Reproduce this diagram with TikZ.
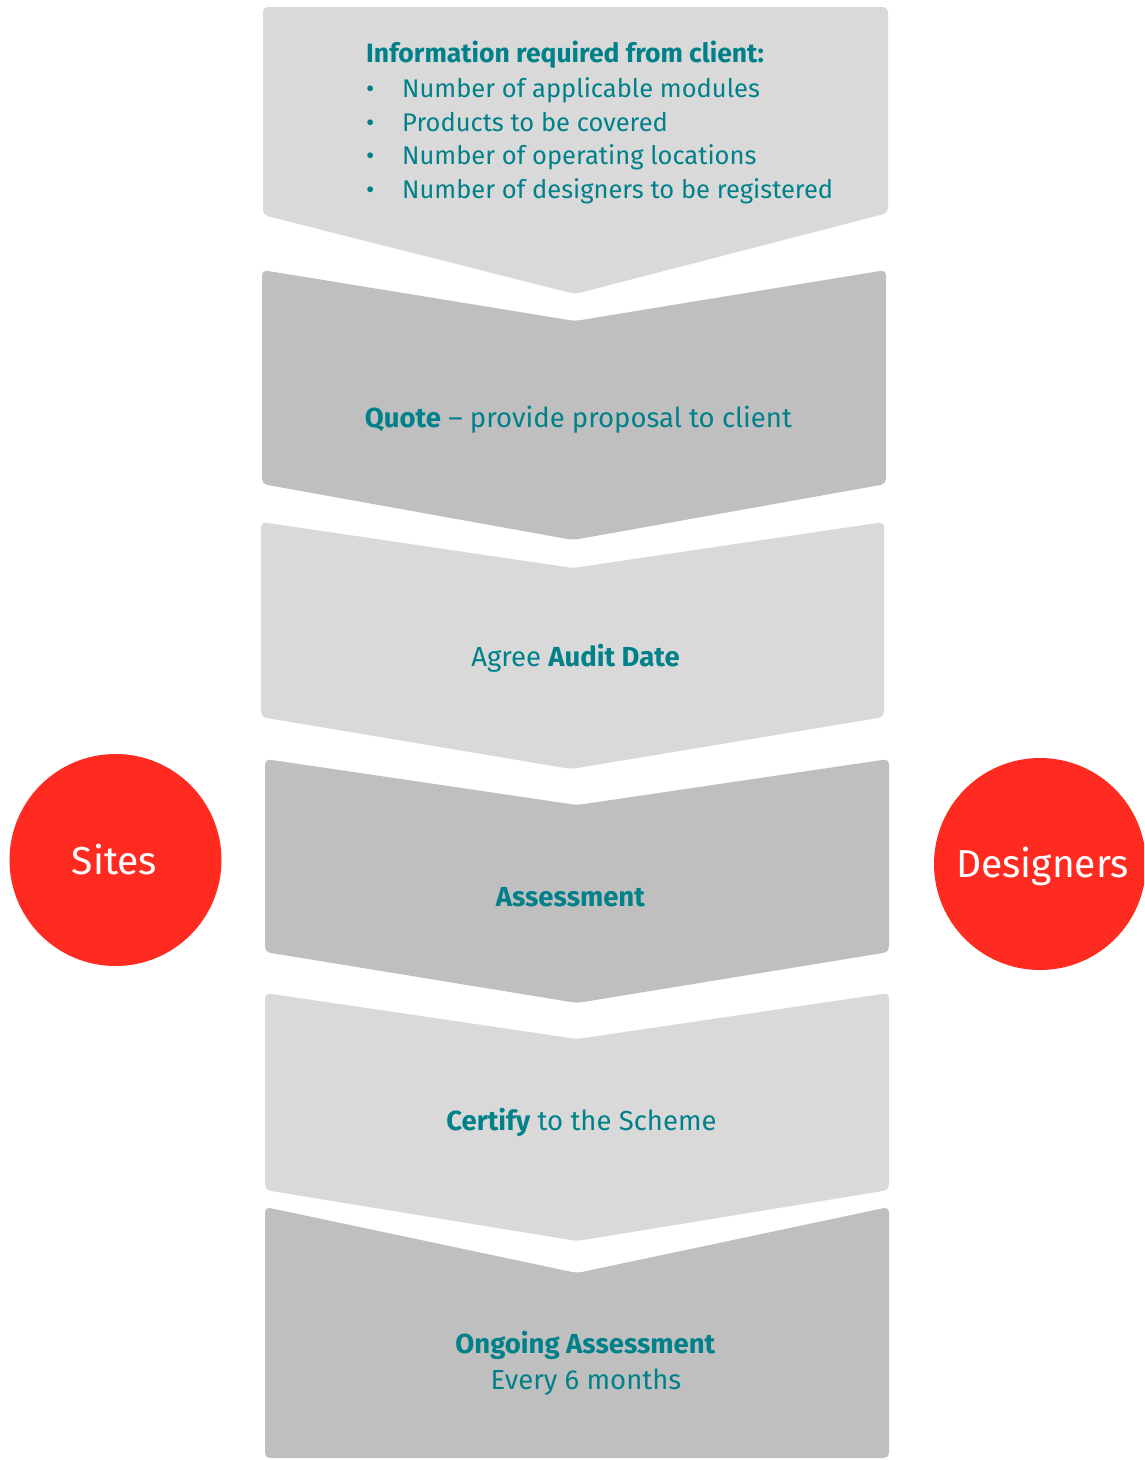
\documentclass[tikz,border=0pt]{standalone}
\usepackage{fontspec}
\setmainfont{Fira Sans}
\definecolor{lightg}{HTML}{D9D9D9}
\definecolor{darkg}{HTML}{BFBFBF}
\definecolor{tealc}{HTML}{00818A}
\definecolor{redc}{HTML}{FF2B21}
\begin{document}
\begin{tikzpicture}[x=1pt,y=-1pt,
  chev/.style={rounded corners=5pt},
  lbl/.style={text=tealc, font=\fontsize{27.5}{32}\selectfont, inner sep=0pt, anchor=base},
  lst/.style={text=tealc, font=\fontsize{25.5}{30}\selectfont, inner sep=0pt, anchor=base west},
  circ/.style={circle, fill=redc, minimum size=212pt, inner sep=0pt},
  clbl/.style={text=white, font=\fontsize{39}{44}\selectfont, inner sep=0pt, anchor=base}]
\useasboundingbox (0,0) rectangle (1144,1460);
\clip (0,0) rectangle (1144,1460);
% chevrons
\fill[lightg, chev] (263,7) -- (888,7) -- (888,213) -- (575,294) -- (263,215) -- cycle;
\fill[darkg, chev] (262,270) -- (575,321) -- (886,270) -- (886,484) -- (573,540) -- (262,484) -- cycle;
\fill[lightg, chev] (261,522) -- (573,568) -- (884,522) -- (884,717) -- (571,769) -- (261,717) -- cycle;
\fill[darkg, chev] (265,759) -- (577,805) -- (889,759) -- (889,952) -- (577,1003) -- (265,952) -- cycle;
\fill[lightg, chev] (265,993) -- (577,1039) -- (889,993) -- (889,1190) -- (577,1241) -- (265,1190) -- cycle;
\fill[darkg, chev] (265,1207) -- (577,1273) -- (889,1207) -- (889,1458) -- (265,1458) -- cycle;
% top box text
\node[lst, font=\fontsize{26.5}{30}\selectfont\bfseries] (info) at (366,62) {Information required from client:};
\node[lst] (d1) at (366,97) {•};
\node[lst] (i1) at (402,97) {Number of applicable modules};
\node[lst] (d2) at (366,131) {•};
\node[lst] (i2) at (402,131) {Products to be covered};
\node[lst] (d3) at (366,164) {•};
\node[lst] (i3) at (402,164) {Number of operating locations};
\node[lst] (d4) at (366,198) {•};
\node[lst] (i4) at (402,198) {Number of designers to be registered};
% step labels
\node[lbl] (quote) at (578.5,427) {\textbf{Quote} – provide proposal to client};
\node[lbl] (agree) at (575.5,666) {Agree \textbf{Audit Date}};
\node[lbl] (assess) at (570.5,906) {\textbf{Assessment}};
\node[lbl] (cert) at (581.5,1130) {\textbf{Certify} to the Scheme};
\node[lbl] (ongoing) at (585.5,1353) {\textbf{Ongoing Assessment}};
\node[lbl] (every) at (586,1389) {Every 6 months};
% circles
\node[circ] (sites) at (115.5,860) {};
\node[clbl] (sitesl) at (114.5,874) {Sites};
\node[circ] (designers) at (1040,864) {};
\node[clbl] (designersl) at (1042.5,877) {Designers};
\end{tikzpicture}
\end{document}
